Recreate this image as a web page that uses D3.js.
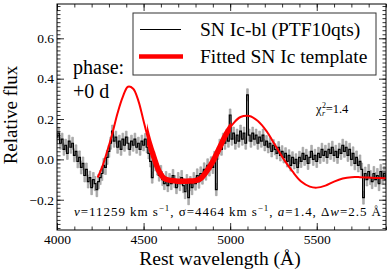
<!DOCTYPE html>
<html>
<head>
<meta charset="utf-8">
<script src="https://cdn.jsdelivr.net/npm/d3@7"></script>
<style>
  body { margin: 0; background: #fff; }
  svg { display: block; font-family: "Liberation Serif", "DejaVu Serif", serif; }
</style>
</head>
<body>
<svg id="chart" width="390" height="274"></svg>
<script>
// spectrum sampled every 10 A, starting at 4000 A
const waveStart = 4000;
const waveStep = 10;
const flux = [
  0.11, 0.13, 0.08, 0.10, 0.05, 0.07, 0.03, 0.09, 0.06, 0.08,
  0.02, 0.04, -0.01, 0.01, -0.04, -0.02, -0.08, -0.05, -0.11, -0.09,
  -0.14, -0.10, -0.12, -0.15, -0.11, -0.09, -0.07, -0.03, -0.04, 0.01,
  0.04, 0.08, 0.14, 0.09, 0.11, 0.06, 0.09, 0.05, 0.10, 0.07,
  0.11, 0.08, 0.05, 0.09, 0.07, 0.10, 0.06, 0.08, 0.05, 0.09,
  0.07, 0.10, 0.06, 0.03, -0.01, -0.09, 0.01, -0.03, -0.05, -0.08,
  -0.06, -0.10, -0.12, -0.09, -0.13, -0.10, -0.12, -0.08, -0.11, -0.14,
  -0.10, -0.12, -0.09, -0.13, -0.16, -0.11, -0.19, -0.12, -0.14, -0.10,
  -0.12, -0.08, -0.11, -0.07, -0.09, -0.05, -0.07, -0.03, -0.05, -0.02,
  -0.04, 0.01, -0.15, 0.03, 0.07, 0.05, 0.10, 0.08, 0.12, 0.09,
  0.22, 0.10, 0.13, 0.08, 0.12, 0.09, 0.14, 0.10, 0.13, 0.08,
  0.32, 0.12, 0.09, 0.13, 0.10, 0.12, 0.08, 0.11, 0.09, 0.12,
  0.07, 0.09, 0.06, 0.08, 0.04, 0.07, 0.05, 0.03, 0.06, 0.02,
  0.04, 0.01, 0.03, -0.01, 0.02, -0.03, 0.01, -0.02, 0.00, -0.04,
  0.01, -0.01, 0.03, 0.00, 0.02, -0.02, 0.01, 0.04, 0.00, 0.02,
  -0.01, 0.03, 0.01, 0.05, 0.02, 0.04, 0.01, 0.05, 0.03, 0.06,
  0.02, 0.04, 0.01, 0.05, 0.03, 0.07, 0.04, 0.06, 0.02, 0.05,
  0.00, 0.03, -0.02, 0.01, -0.03, -0.01, -0.05, -0.19, -0.07, -0.10,
  -0.06, -0.09, -0.11, -0.07, -0.10, -0.08, -0.12, -0.06, -0.09, -0.07,
  -0.10
];
// error per 100 A bin
const errBins = [0.03, 0.032, 0.035, 0.03, 0.03, 0.028, 0.03, 0.035, 0.033, 0.03,
                 0.03, 0.03, 0.028, 0.028, 0.03, 0.03, 0.03, 0.032, 0.035, 0.035];

// fitted template
const tmplWave = [4235, 4260, 4290, 4320, 4350, 4380, 4410, 4440, 4470, 4500,
                  4530, 4560, 4590, 4620, 4660, 4700, 4750, 4800, 4830, 4860,
                  4900, 4940, 4980, 5020, 5060, 5110, 5160, 5210, 5260, 5310,
                  5360, 5410, 5460, 5500, 5550, 5600, 5650, 5700, 5750, 5800,
                  5850, 5900];
const tmplFlux = [-0.09, -0.04, 0.04, 0.13, 0.23, 0.31, 0.36, 0.35, 0.29, 0.19,
                  0.09, 0.01, -0.06, -0.095, -0.105, -0.108, -0.108, -0.105, -0.095, -0.065,
                  -0.01, 0.06, 0.13, 0.18, 0.21, 0.215, 0.19, 0.14, 0.07, 0.0,
                  -0.06, -0.11, -0.135, -0.14, -0.13, -0.11, -0.095, -0.088, -0.088, -0.09,
                  -0.092, -0.093];
const fitRange = [4520, 5005];

const xTicks = [4000, 4500, 5000, 5500];
const yTicks = [-0.2, 0.0, 0.2, 0.4, 0.6];

const svg = d3.select("#chart");
const margin = { left: 57, top: 4, right: 4, bottom: 44 };
const W = 390, H = 274;
const width = W - margin.left - margin.right;
const height = H - margin.top - margin.bottom;

const x = d3.scaleLinear().domain([4000, 5900]).range([0, width]);
const y = d3.scaleLinear().domain([-0.35, 0.77]).range([height, 0]);

const g = svg.append("g").attr("transform", `translate(${margin.left},${margin.top})`);

g.append("clipPath").attr("id", "clip")
  .append("rect").attr("width", width).attr("height", height);

const spec = flux.map((f, i) => {
  const w = waveStart + i * waveStep;
  const e = errBins[Math.min(errBins.length - 1, Math.floor((w - 4000) / 100))];
  return { w, f, e };
});

const plot = g.append("g").attr("clip-path", "url(#clip)");

// error band
plot.append("path")
  .datum(spec)
  .attr("fill", "#b0b0b0")
  .attr("stroke", "#999")
  .attr("stroke-width", 0.6)
  .attr("d", d3.area().curve(d3.curveStep)
    .x(d => x(d.w)).y0(d => y(d.f - d.e)).y1(d => y(d.f + d.e)));

// spectrum
plot.append("path")
  .datum(spec)
  .attr("fill", "none")
  .attr("stroke", "#000")
  .attr("stroke-width", 1.2)
  .attr("d", d3.line().curve(d3.curveStep).x(d => x(d.w)).y(d => y(d.f)));

// template
const tmpl = tmplWave.map((w, i) => ({ w, f: tmplFlux[i] }));
const tLine = d3.line().curve(d3.curveCatmullRom).x(d => x(d.w)).y(d => y(d.f));
plot.append("path")
  .datum(tmpl)
  .attr("fill", "none").attr("stroke", "#f00").attr("stroke-width", 2)
  .attr("d", tLine);

// thick part over the fit range
g.append("clipPath").attr("id", "fitclip")
  .append("rect")
  .attr("x", x(fitRange[0])).attr("width", x(fitRange[1]) - x(fitRange[0]))
  .attr("y", 0).attr("height", height);
plot.append("g").attr("clip-path", "url(#fitclip)")
  .append("path")
  .datum(tmpl)
  .attr("fill", "none").attr("stroke", "#f00").attr("stroke-width", 5.5)
  .attr("d", tLine);

// axes with inward ticks on all sides
const fmtY = d3.format(".1f");
const xMinor = d3.range(4000, 5901, 100);
const yMinor = d3.range(-0.34, 0.77, 0.02);

function styleAxis(sel) {
  sel.select(".domain").remove();
  sel.selectAll("line").attr("stroke", "#000").attr("stroke-width", 0.8);
  sel.selectAll("text").attr("font-family", "Liberation Serif").attr("font-size", 13.5).attr("fill", "#000");
}

g.append("g").attr("transform", `translate(0,${height})`)
  .call(d3.axisBottom(x).tickValues(xTicks).tickSize(-7).tickPadding(4).tickFormat(d3.format("d")))
  .call(styleAxis);
g.append("g").attr("transform", `translate(0,${height})`)
  .call(d3.axisBottom(x).tickValues(xMinor).tickSize(-3.5).tickFormat(""))
  .call(styleAxis);
g.append("g")
  .call(d3.axisTop(x).tickValues(xTicks).tickSize(-7).tickFormat(""))
  .call(styleAxis);
g.append("g")
  .call(d3.axisTop(x).tickValues(xMinor).tickSize(-3.5).tickFormat(""))
  .call(styleAxis);

g.append("g")
  .call(d3.axisLeft(y).tickValues(yTicks).tickSize(-7).tickPadding(3).tickFormat(fmtY))
  .call(styleAxis);
g.append("g")
  .call(d3.axisLeft(y).tickValues(yMinor).tickSize(-3.5).tickFormat(""))
  .call(styleAxis);
g.append("g").attr("transform", `translate(${width},0)`)
  .call(d3.axisRight(y).tickValues(yTicks).tickSize(-7).tickFormat(""))
  .call(styleAxis);
g.append("g").attr("transform", `translate(${width},0)`)
  .call(d3.axisRight(y).tickValues(yMinor).tickSize(-3.5).tickFormat(""))
  .call(styleAxis);

// frame
g.append("rect").attr("width", width).attr("height", height)
  .attr("fill", "none").attr("stroke", "#000").attr("stroke-width", 1);

// axis labels
svg.append("text")
  .attr("transform", `translate(17,115) rotate(-90)`)
  .attr("text-anchor", "middle")
  .attr("font-size", 19)
  .text("Relative flux");
svg.append("text")
  .attr("x", 220).attr("y", 265)
  .attr("text-anchor", "middle")
  .attr("font-size", 19.5)
  .text("Rest wavelength (Å)");

// annotations
svg.append("text").attr("x", 73).attr("y", 74).attr("font-size", 20).text("phase:");
svg.append("text").attr("x", 73).attr("y", 98).attr("font-size", 20).text("+0 d");

// chi^2_r as one text element with stacked scripts
const chi = svg.append("text").attr("x", 316).attr("y", 113).attr("font-size", 12.5);
chi.append("tspan").text("χ");
chi.append("tspan").attr("dy", -5.5).attr("dx", 0.5).attr("font-size", 8).text("2");
chi.append("tspan").attr("dy", 8.5).attr("dx", -4).attr("font-size", 8).attr("font-style", "italic").text("r");
chi.append("tspan").attr("dy", -3).attr("dx", 0.5).text("=1.4");

const par = svg.append("text").attr("x", 74).attr("y", 216).attr("font-size", 13)
  .attr("textLength", 307).attr("lengthAdjust", "spacing");
par.append("tspan").attr("font-style", "italic").text("v");
par.append("tspan").text("=11259 km s");
par.append("tspan").attr("dy", -5).attr("font-size", 9).text("−1");
par.append("tspan").attr("dy", 5).text(", σ=4464 km s");
par.append("tspan").attr("dy", -5).attr("font-size", 9).text("−1");
par.append("tspan").attr("dy", 5).text(", ");
par.append("tspan").attr("font-style", "italic").text("a");
par.append("tspan").text("=1.4, Δ");
par.append("tspan").attr("font-style", "italic").text("w");
par.append("tspan").text("=2.5 Å");

// legend
const leg = svg.append("g");
leg.append("rect").attr("x", 133).attr("y", 13).attr("width", 243).attr("height", 62)
  .attr("fill", "#fff").attr("stroke", "#333").attr("stroke-width", 1);
leg.append("line").attr("x1", 140).attr("x2", 181).attr("y1", 29.5).attr("y2", 29.5)
  .attr("stroke", "#000").attr("stroke-width", 1.2);
leg.append("line").attr("x1", 139).attr("x2", 183).attr("y1", 56.5).attr("y2", 56.5)
  .attr("stroke", "#f00").attr("stroke-width", 4.5);
leg.append("text").attr("x", 200).attr("y", 36).attr("font-size", 19.5).text("SN Ic-bl (PTF10qts)");
leg.append("text").attr("x", 200).attr("y", 63).attr("font-size", 19.5).text("Fitted SN Ic template");
</script>
</body>
</html>
